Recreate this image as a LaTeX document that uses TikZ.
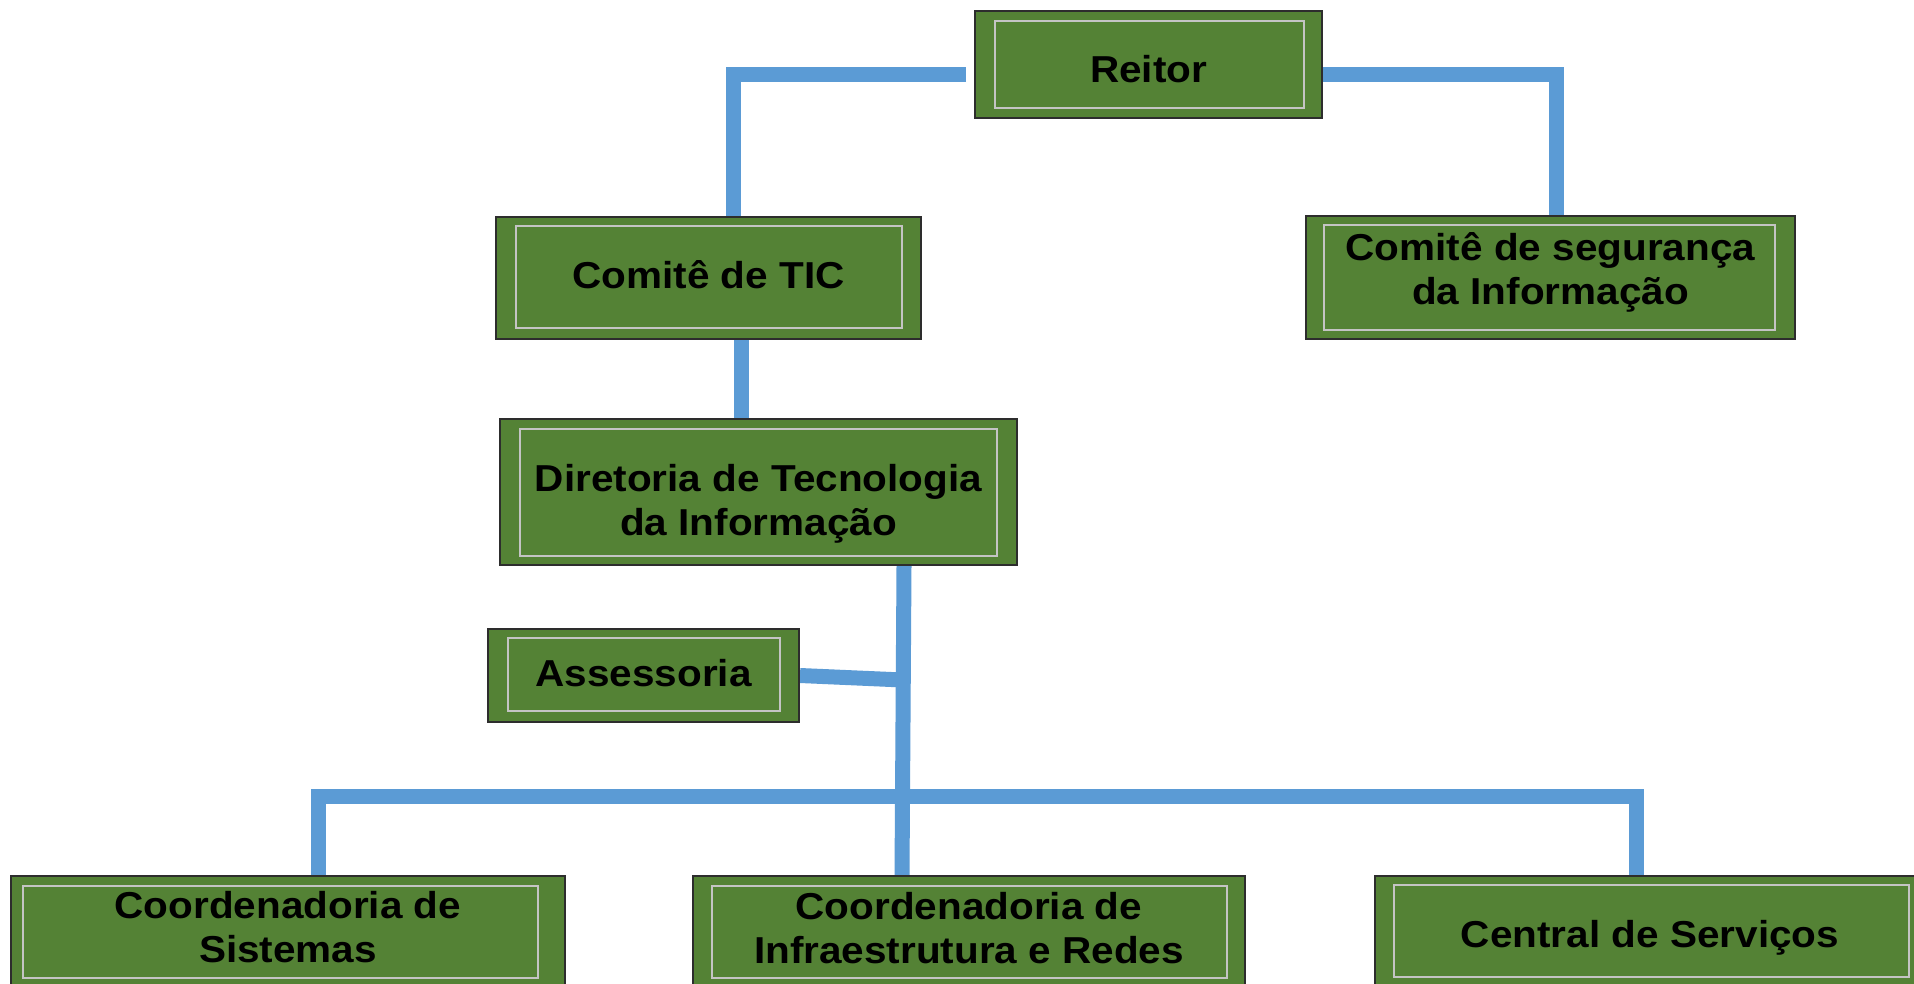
\documentclass[tikz,border=0pt]{standalone}
\usepackage{fontspec}
\setmainfont{Liberation Sans}[FakeStretch=1.08]
\usetikzlibrary{calc}
\definecolor{boxgreen}{RGB}{84,130,53}
\definecolor{conblue}{RGB}{91,155,213}
\definecolor{innergray}{RGB}{196,196,196}
\definecolor{edgegray}{RGB}{45,45,45}
\pgfdeclarelayer{back}
\pgfdeclarelayer{bg}
\pgfsetlayers{back,bg,main}
\newcommand{\boxfont}{\fontsize{37.5pt}{44pt}\selectfont\bfseries}
\begin{document}
\begin{tikzpicture}[x=1pt,y=-1pt,
  orgbox/.style n args={4}{rectangle, draw=edgegray, line width=2pt, fill=boxgreen,
    inner sep=0pt, align=center, font=\boxfont, text=black, text depth=0pt,
    path picture={\draw[draw=innergray,line width=1.5pt]
      ([shift={(#1pt,-#2pt)}]path picture bounding box.north west) rectangle
      ([shift={(-#3pt,#4pt)}]path picture bounding box.south east);}},
  conn/.style={draw=conblue, line width=15pt, line join=miter, line cap=butt}]
\path[use as bounding box, clip] (0,0) rectangle (1914,983);
\begin{pgfonlayer}{back}
\fill[white] (0,0) rectangle (1914,983);
\end{pgfonlayer}

\node[orgbox={20}{10}{18}{10}, minimum width=347pt, minimum height=107pt, text height=35pt] (reitor) at (1148.5,64.5) {Reitor};
\node[orgbox={20}{9}{19}{11}, minimum width=425pt, minimum height=122pt, text height=21pt] (tic) at (708.5,278) {Comitê de TIC};
\node[orgbox={18}{9}{20}{9}, minimum width=489pt, minimum height=123pt, text height=54pt] (seg) at (1550.5,277.5) {Comitê de segurança\\da Informação};
\node[orgbox={20}{10}{20}{9}, minimum width=517pt, minimum height=146pt, text height=86pt] (dir) at (758.5,492) {Diretoria de Tecnologia\\da Informação};
\node[orgbox={20}{9}{19}{11}, minimum width=311pt, minimum height=93pt, text height=21pt] (ass) at (643.5,675.5) {Assessoria};
\node[orgbox={12}{10}{27}{10}, minimum width=554pt, minimum height=112pt, text height=61pt] (sis) at (288,932) {Coordenadoria de\\Sistemas};
\node[orgbox={19}{10}{18}{10}, minimum width=552pt, minimum height=112pt, text height=63pt] (inf) at (969,932) {Coordenadoria de\\Infraestrutura e Redes};
\node[orgbox={19}{9}{16}{11}, minimum width=550pt, minimum height=112pt, text height=31pt] (cen) at (1650,932) {Central de Serviços};

\begin{pgfonlayer}{bg}
\coordinate (rl) at (966,74);
\coordinate (tl) at (733,74);
\coordinate (tr) at (1556,74);
\draw[conn] (rl) -- (tl) -- (tl |- tic.north);
\draw[conn] (reitor.east |- tr) -- (tr) -- (tr |- seg.north);
\coordinate (v1) at (741,400);
\draw[conn] (v1 |- tic.south) -- (v1 |- dir.north);
\coordinate (vt) at (904,600);
\coordinate (vb) at (902,796);
\coordinate (jd) at (903,680);
\draw[conn] (vt |- dir.south) -- (vb |- inf.north);
\draw[conn] (ass.east) -- (jd);
\coordinate (bl) at (318,796);
\coordinate (br) at (1636,796);
\draw[conn] (bl |- sis.north) -- (bl) -- (br) -- (br |- cen.north);
\end{pgfonlayer}
\end{tikzpicture}
\end{document}
